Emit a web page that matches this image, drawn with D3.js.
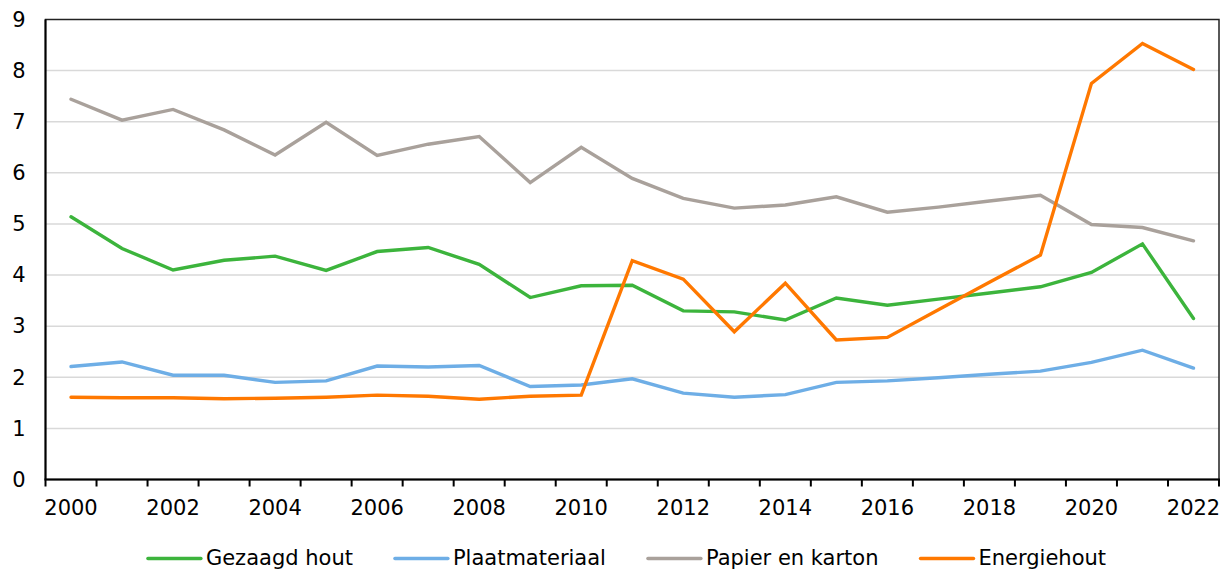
<!DOCTYPE html>
<html>
<head>
<meta charset="utf-8">
<script src="https://cdn.jsdelivr.net/npm/d3@7"></script>
<style>
  html, body { margin: 0; padding: 0; background: #fff; }
  svg { display: block; font-family: "DejaVu Sans", Verdana, sans-serif; }
</style>
</head>
<body>
<div id="chart"></div>
<script>
const years = d3.range(2000, 2023);
const yTicks = [0, 1, 2, 3, 4, 5, 6, 7, 8, 9];
const xLabels = [2000, 2002, 2004, 2006, 2008, 2010, 2012, 2014, 2016, 2018, 2020, 2022];

const gezaagdHout = [5.14, 4.52, 4.10, 4.29, 4.37, 4.09, 4.46, 4.54, 4.21, 3.56, 3.79, 3.80,
  3.30, 3.28, 3.12, 3.55, 3.41, 3.53, 3.65, 3.77, 4.05, 4.61, 3.15];
const plaatmateriaal = [2.21, 2.30, 2.04, 2.04, 1.90, 1.93, 2.22, 2.20, 2.23, 1.82, 1.85, 1.97,
  1.69, 1.61, 1.66, 1.90, 1.93, 1.99, 2.06, 2.12, 2.29, 2.53, 2.18];
const papierKarton = [7.44, 7.03, 7.24, 6.84, 6.35, 6.99, 6.34, 6.56, 6.71, 5.81, 6.50, 5.89,
  5.50, 5.31, 5.37, 5.53, 5.23, 5.33, 5.45, 5.56, 4.99, 4.93, 4.67];
const energiehout = [1.61, 1.60, 1.60, 1.58, 1.59, 1.61, 1.65, 1.63, 1.57, 1.63, 1.65, 4.28,
  3.92, 2.89, 3.84, 2.73, 2.78, 3.32, 3.86, 4.39, 7.75, 8.53, 8.02];

const series = [
  { name: "Gezaagd hout", color: "#3cb43c", values: gezaagdHout },
  { name: "Plaatmateriaal", color: "#6eaee6", values: plaatmateriaal },
  { name: "Papier en karton", color: "#a9a19b", values: papierKarton },
  { name: "Energiehout", color: "#ff7800", values: energiehout }
];

const width = 1223, height = 569;
const plotLeft = 45.5, plotRight = 1219, plotTop = 19.5, plotBottom = 479.5;
const fontSize = 21;

const svg = d3.select("#chart").append("svg")
  .attr("width", width).attr("height", height);

const x = d3.scaleBand().domain(years).range([plotLeft, plotRight]).padding(0);
const y = d3.scaleLinear().domain([0, 9]).range([plotBottom, plotTop]);

// gridlines
svg.append("g").selectAll("line").data(yTicks.filter(d => d > 0 && d < 9)).join("line")
  .attr("x1", plotLeft).attr("x2", plotRight)
  .attr("y1", d => y(d)).attr("y2", d => y(d))
  .attr("stroke", "#d9d9d9").attr("stroke-width", 1.5);

// frame
svg.append("rect")
  .attr("x", plotLeft).attr("y", plotTop)
  .attr("width", plotRight - plotLeft).attr("height", plotBottom - plotTop)
  .attr("fill", "none").attr("stroke", "#222").attr("stroke-width", 1.5);
svg.append("line").attr("x1", plotLeft).attr("x2", plotLeft).attr("y1", plotTop).attr("y2", plotBottom)
  .attr("stroke", "#000").attr("stroke-width", 2);

// y labels
const yAxis = svg.append("g").attr("transform", `translate(${plotLeft},0)`)
  .call(d3.axisLeft(y).tickValues(yTicks).tickSize(0).tickPadding(20));
yAxis.select(".domain").remove();
yAxis.selectAll("text").attr("font-size", fontSize).attr("fill", "#000")
  .attr("font-family", "DejaVu Sans, Verdana, sans-serif");

// x axis
const xAxis = svg.append("g").attr("transform", `translate(0,${plotBottom})`)
  .call(d3.axisBottom(x).tickValues(xLabels).tickSize(0).tickPadding(21));
xAxis.select(".domain").remove();
xAxis.selectAll("text").attr("font-size", fontSize).attr("fill", "#000")
  .attr("font-family", "DejaVu Sans, Verdana, sans-serif");

svg.append("line").attr("x1", plotLeft - 1).attr("x2", plotRight + 1)
  .attr("y1", plotBottom).attr("y2", plotBottom)
  .attr("stroke", "#000").attr("stroke-width", 2);

const bounds = years.map(d => x(d)).concat([plotRight]);
svg.append("g").selectAll("line").data(bounds).join("line")
  .attr("x1", d => d).attr("x2", d => d)
  .attr("y1", plotBottom).attr("y2", plotBottom + 7)
  .attr("stroke", "#000").attr("stroke-width", 2);

// lines
const line = d3.line()
  .x((d, i) => x(years[i]) + x.bandwidth() / 2)
  .y(d => y(d));

svg.append("g").selectAll("path").data(series).join("path")
  .attr("d", d => line(d.values))
  .attr("fill", "none")
  .attr("stroke", d => d.color)
  .attr("stroke-width", 3.4)
  .attr("stroke-linejoin", "miter")
  .attr("stroke-linecap", "round");

// legend
const legend = svg.append("g");
const items = legend.selectAll("g").data(series).join("g");
items.append("line")
  .attr("x1", 0).attr("x2", 53).attr("y1", 558.5).attr("y2", 558.5)
  .attr("stroke", d => d.color).attr("stroke-width", 3.4).attr("stroke-linecap", "round");
items.append("text")
  .attr("x", 58).attr("y", 565)
  .attr("font-size", fontSize).attr("fill", "#000")
  .text(d => d.name);

let widths = [];
items.each(function () { widths.push(this.getBBox().width); });
const gap = 42;
const total = d3.sum(widths) + gap * (widths.length - 1);
let cx = 627 - total / 2;
items.each(function (d, i) {
  d3.select(this).attr("transform", `translate(${cx},0)`);
  cx += widths[i] + gap;
});
</script>
</body>
</html>
